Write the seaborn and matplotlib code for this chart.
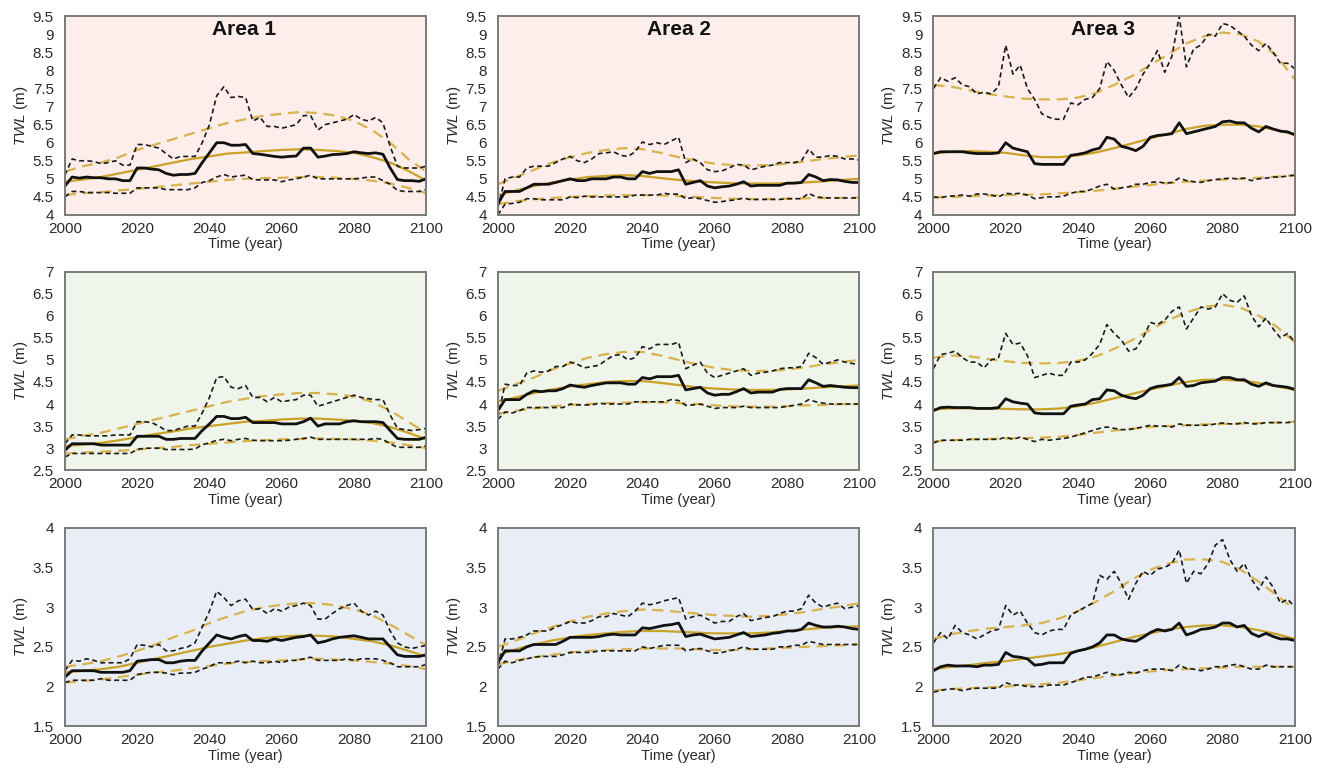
import matplotlib
matplotlib.use("Agg")
import matplotlib.pyplot as plt
from matplotlib.ticker import FuncFormatter, MultipleLocator
import seaborn as sns
import numpy as np

# ---------------- data ----------------
YEARS = list(range(2000, 2101, 2))      # raw (black) series
FIT_YEARS = list(range(2000, 2101, 5))  # fitted (gold) series
AREAS = ["Area 1", "Area 2", "Area 3"]
Y_LIMITS = [(4, 9.5), (2.5, 7), (1.5, 4)]

# Row 1 ------------------------------------------------------------
r1_a1_med = [4.8,5.05,5.02,5.05,5.03,5.03,5.0,5.0,4.95,4.95,5.3,5.3,5.27,5.25,5.15,5.1,5.12,5.12,5.15,5.45,5.72,6.0,6.0,5.93,5.93,5.95,5.7,5.68,5.65,5.62,5.6,5.62,5.63,5.85,5.85,5.6,5.63,5.67,5.68,5.7,5.75,5.72,5.7,5.72,5.68,5.3,4.98,4.95,4.95,4.93,5.0]
r1_a1_hi = [5.1,5.55,5.5,5.5,5.48,5.42,5.45,5.5,5.38,5.38,5.95,5.95,5.9,5.85,5.7,5.55,5.62,5.62,5.62,6.0,6.5,7.3,7.55,7.25,7.28,7.25,6.6,6.7,6.45,6.45,6.4,6.45,6.5,6.75,6.75,6.35,6.5,6.55,6.6,6.65,6.78,6.65,6.6,6.7,6.55,5.9,5.35,5.3,5.3,5.3,5.35]
r1_a1_lo = [4.5,4.65,4.65,4.62,4.62,4.62,4.62,4.6,4.6,4.6,4.75,4.75,4.75,4.75,4.7,4.7,4.7,4.7,4.75,4.9,4.95,5.05,5.12,5.05,5.08,5.1,4.98,4.97,4.97,4.97,4.92,4.97,5.0,5.05,5.1,5.0,5.0,5.0,5.0,5.0,5.0,5.02,5.05,5.05,4.95,4.85,4.68,4.65,4.65,4.65,4.7]
r1_a1_fit = [4.92,4.98,5.05,5.15,5.25,5.35,5.45,5.55,5.62,5.7,5.73,5.77,5.8,5.82,5.8,5.77,5.72,5.6,5.45,5.22,4.95]
r1_a1_fit_hi = [5.2,5.35,5.45,5.6,5.8,5.95,6.1,6.25,6.4,6.55,6.65,6.75,6.8,6.85,6.82,6.75,6.6,6.35,6.0,5.55,5.2]
r1_a1_fit_lo = [4.55,4.6,4.63,4.68,4.72,4.77,4.82,4.87,4.92,4.97,5.0,5.02,5.03,5.05,5.05,5.03,5.0,4.95,4.87,4.75,4.6]

r1_a2_med = [4.3,4.65,4.65,4.65,4.75,4.85,4.85,4.85,4.9,4.95,5.0,4.95,4.95,5.0,5.0,5.0,5.05,5.05,5.0,5.0,5.2,5.15,5.2,5.2,5.2,5.25,4.85,4.9,4.95,4.8,4.75,4.78,4.8,4.85,4.92,4.8,4.82,4.82,4.82,4.82,4.88,4.88,4.9,5.12,5.05,4.95,4.98,4.97,4.93,4.9,4.9]
r1_a2_hi = [4.2,5.0,5.05,5.05,5.3,5.35,5.35,5.35,5.45,5.55,5.62,5.5,5.45,5.55,5.7,5.72,5.75,5.65,5.62,5.75,6.02,5.95,6.0,5.95,6.05,6.15,5.45,5.55,5.45,5.25,5.2,5.22,5.3,5.4,5.38,5.25,5.3,5.35,5.38,5.45,5.45,5.45,5.5,5.82,5.6,5.6,5.65,5.62,5.55,5.55,5.52]
r1_a2_lo = [4.0,4.3,4.32,4.35,4.45,4.45,4.42,4.42,4.42,4.42,4.5,4.48,4.52,4.5,4.5,4.5,4.5,4.5,4.5,4.55,4.55,4.55,4.55,4.6,4.57,4.58,4.45,4.48,4.45,4.4,4.35,4.37,4.4,4.42,4.47,4.42,4.43,4.43,4.43,4.43,4.45,4.45,4.45,4.6,4.5,4.48,4.47,4.47,4.47,4.47,4.47]
r1_a2_fit = [4.55,4.68,4.8,4.9,4.98,5.05,5.08,5.1,5.08,5.02,4.97,4.93,4.9,4.88,4.87,4.87,4.88,4.9,4.93,4.97,5.0]
r1_a2_fit_hi = [4.85,5.05,5.25,5.45,5.6,5.72,5.8,5.85,5.82,5.72,5.6,5.5,5.42,5.38,5.37,5.38,5.42,5.48,5.55,5.6,5.65]
r1_a2_fit_lo = [4.3,4.38,4.43,4.47,4.5,4.52,4.54,4.55,4.55,4.54,4.52,4.5,4.47,4.45,4.44,4.44,4.45,4.46,4.47,4.47,4.48]

r1_a3_med = [5.7,5.75,5.75,5.75,5.75,5.72,5.7,5.7,5.7,5.72,6.0,5.85,5.8,5.75,5.42,5.4,5.4,5.4,5.4,5.65,5.68,5.72,5.8,5.85,6.15,6.1,5.9,5.85,5.78,5.9,6.15,6.2,6.22,6.25,6.55,6.25,6.3,6.35,6.4,6.45,6.58,6.6,6.55,6.55,6.4,6.3,6.45,6.38,6.32,6.3,6.22]
r1_a3_hi = [7.5,7.8,7.7,7.8,7.6,7.55,7.35,7.4,7.35,7.55,8.7,7.9,8.15,7.5,7.2,6.8,6.7,6.65,6.65,7.1,7.05,7.2,7.25,7.5,8.25,8.0,7.6,7.25,7.5,7.9,8.2,8.55,7.95,8.4,9.5,8.1,8.6,8.7,9.0,8.95,9.3,9.25,9.1,8.95,8.7,8.55,8.75,8.5,8.2,8.2,8.05]
r1_a3_lo = [4.5,4.48,4.52,4.53,4.55,4.52,4.58,4.58,4.55,4.5,4.6,4.58,4.6,4.55,4.45,4.48,4.5,4.5,4.52,4.6,4.65,4.65,4.72,4.8,4.85,4.72,4.75,4.78,4.85,4.85,4.9,4.92,4.88,4.9,5.02,4.95,4.92,4.9,4.95,4.98,5.0,5.02,5.0,5.02,4.95,5.0,5.02,5.05,5.05,5.08,5.1]
r1_a3_fit = [5.7,5.75,5.77,5.75,5.72,5.65,5.6,5.6,5.65,5.73,5.85,5.98,6.12,6.25,6.38,6.47,6.5,6.5,6.45,6.35,6.22]
r1_a3_fit_hi = [7.6,7.55,7.45,7.35,7.28,7.22,7.2,7.2,7.25,7.38,7.6,7.85,8.15,8.45,8.75,8.95,9.05,9.0,8.8,8.4,7.75]
r1_a3_fit_lo = [4.48,4.5,4.52,4.54,4.55,4.56,4.57,4.6,4.63,4.67,4.72,4.78,4.83,4.88,4.92,4.95,4.98,5.0,5.03,5.06,5.1]

# Row 2 ------------------------------------------------------------
r2_a1_med = [2.95,3.1,3.1,3.1,3.1,3.07,3.07,3.07,3.07,3.07,3.27,3.27,3.27,3.27,3.2,3.2,3.22,3.22,3.22,3.4,3.55,3.72,3.72,3.67,3.67,3.7,3.58,3.58,3.58,3.58,3.55,3.55,3.55,3.6,3.68,3.5,3.55,3.55,3.55,3.6,3.62,3.6,3.6,3.6,3.58,3.4,3.22,3.2,3.2,3.2,3.25]
r2_a1_hi = [3.1,3.3,3.3,3.28,3.28,3.28,3.28,3.3,3.3,3.3,3.6,3.6,3.58,3.5,3.4,3.4,3.45,3.5,3.5,3.8,4.15,4.6,4.62,4.38,4.35,4.42,4.15,4.15,4.05,4.15,4.05,4.08,4.1,4.2,4.2,3.95,4.0,4.05,4.1,4.15,4.2,4.15,4.12,4.1,4.1,3.75,3.45,3.42,3.4,3.42,3.45]
r2_a1_lo = [2.8,2.88,2.88,2.88,2.88,2.88,2.88,2.88,2.88,2.88,2.97,3.0,3.0,3.0,2.97,2.97,2.97,2.97,2.98,3.08,3.12,3.18,3.2,3.17,3.2,3.22,3.18,3.17,3.17,3.17,3.17,3.18,3.2,3.22,3.25,3.2,3.2,3.2,3.2,3.2,3.2,3.2,3.2,3.22,3.2,3.1,3.02,3.02,3.02,3.02,3.05]
r2_a1_fit = [3.05,3.08,3.12,3.18,3.25,3.32,3.38,3.45,3.5,3.55,3.6,3.62,3.65,3.67,3.67,3.65,3.62,3.57,3.48,3.35,3.2]
r2_a1_fit_hi = [3.2,3.28,3.35,3.45,3.55,3.65,3.75,3.85,3.95,4.05,4.12,4.18,4.22,4.25,4.25,4.22,4.17,4.05,3.85,3.6,3.35]
r2_a1_fit_lo = [2.88,2.9,2.92,2.94,2.97,3.0,3.03,3.07,3.1,3.13,3.16,3.18,3.2,3.21,3.22,3.21,3.2,3.17,3.13,3.07,3.0]

r2_a2_med = [3.85,4.1,4.1,4.1,4.22,4.3,4.28,4.3,4.3,4.35,4.43,4.4,4.38,4.42,4.45,4.48,4.48,4.48,4.45,4.45,4.6,4.57,4.62,4.62,4.62,4.65,4.32,4.35,4.38,4.25,4.2,4.22,4.22,4.28,4.35,4.25,4.27,4.27,4.27,4.33,4.35,4.35,4.35,4.55,4.48,4.4,4.42,4.4,4.38,4.37,4.37]
r2_a2_hi = [3.7,4.45,4.42,4.42,4.7,4.75,4.72,4.75,4.85,4.85,4.95,4.9,4.82,4.85,4.88,5.0,5.1,5.12,5.0,5.05,5.3,5.25,5.35,5.35,5.35,5.4,4.8,4.88,4.95,4.7,4.6,4.65,4.7,4.75,4.8,4.65,4.7,4.72,4.75,4.8,4.82,4.82,4.85,5.15,5.05,4.9,4.95,5.0,4.95,4.92,4.88]
r2_a2_lo = [3.65,3.82,3.8,3.85,3.92,3.92,3.92,3.92,3.92,3.92,4.0,3.98,3.98,3.98,4.02,4.0,4.0,4.0,4.0,4.05,4.05,4.05,4.05,4.05,4.1,4.08,3.97,3.98,4.0,3.95,3.9,3.92,3.92,3.92,3.95,3.92,3.92,3.92,3.92,3.92,3.95,3.97,4.0,4.1,4.05,4.02,4.0,4.0,4.0,4.0,4.0]
r2_a2_fit = [4.05,4.15,4.25,4.33,4.4,4.45,4.5,4.52,4.52,4.48,4.43,4.38,4.35,4.33,4.32,4.32,4.33,4.35,4.38,4.4,4.42]
r2_a2_fit_hi = [4.3,4.45,4.6,4.78,4.92,5.05,5.13,5.18,5.18,5.1,5.0,4.9,4.82,4.77,4.75,4.75,4.78,4.83,4.9,4.95,5.0]
r2_a2_fit_lo = [3.78,3.85,3.9,3.95,3.98,4.0,4.02,4.03,4.04,4.04,4.02,4.0,3.97,3.95,3.94,3.94,3.95,3.97,3.98,4.0,4.0]

r2_a3_med = [3.85,3.92,3.93,3.92,3.92,3.92,3.9,3.9,3.9,3.92,4.12,4.05,4.02,4.0,3.8,3.78,3.78,3.78,3.78,3.95,3.98,4.0,4.1,4.12,4.32,4.3,4.2,4.15,4.12,4.2,4.35,4.4,4.42,4.45,4.6,4.4,4.42,4.48,4.5,4.52,4.6,4.6,4.55,4.55,4.45,4.4,4.48,4.42,4.4,4.38,4.33]
r2_a3_hi = [4.8,5.12,5.15,5.2,5.05,4.95,4.95,4.82,5.0,5.05,5.6,5.35,5.38,5.1,4.6,4.65,4.7,4.65,4.65,4.95,4.95,5.0,5.15,5.35,5.8,5.6,5.45,5.2,5.25,5.5,5.85,5.8,5.9,6.1,6.2,5.7,5.95,6.2,6.15,6.2,6.5,6.35,6.3,6.45,6.0,5.75,5.95,5.7,5.5,5.6,5.4]
r2_a3_lo = [3.12,3.18,3.18,3.18,3.18,3.2,3.2,3.2,3.2,3.2,3.25,3.2,3.25,3.2,3.15,3.2,3.18,3.2,3.22,3.25,3.3,3.35,3.4,3.45,3.48,3.45,3.42,3.42,3.45,3.48,3.52,3.5,3.5,3.48,3.55,3.52,3.52,3.52,3.52,3.55,3.57,3.55,3.55,3.58,3.55,3.55,3.58,3.58,3.58,3.58,3.6]
r2_a3_fit = [3.88,3.9,3.9,3.9,3.89,3.88,3.88,3.9,3.95,4.03,4.13,4.23,4.33,4.42,4.5,4.55,4.55,4.53,4.48,4.4,4.32]
r2_a3_fit_hi = [5.05,5.1,5.08,5.02,4.97,4.93,4.92,4.93,4.98,5.08,5.25,5.45,5.68,5.9,6.08,6.2,6.25,6.18,6.0,5.75,5.4]
r2_a3_fit_lo = [3.15,3.18,3.2,3.21,3.22,3.23,3.24,3.26,3.3,3.35,3.4,3.44,3.48,3.5,3.52,3.54,3.55,3.56,3.57,3.58,3.6]

# Row 3 ------------------------------------------------------------
r3_a1_med = [2.12,2.2,2.2,2.2,2.2,2.18,2.18,2.18,2.18,2.2,2.32,2.33,2.34,2.34,2.3,2.3,2.32,2.33,2.33,2.45,2.55,2.65,2.62,2.6,2.63,2.65,2.58,2.58,2.57,2.6,2.58,2.6,2.62,2.63,2.65,2.55,2.57,2.6,2.62,2.63,2.64,2.62,2.6,2.6,2.6,2.5,2.4,2.38,2.38,2.38,2.4]
r3_a1_hi = [2.2,2.33,2.32,2.35,2.33,2.3,2.3,2.3,2.3,2.35,2.53,2.52,2.5,2.53,2.45,2.45,2.48,2.5,2.55,2.75,2.95,3.2,3.12,3.02,3.08,3.1,2.97,2.98,2.92,2.98,2.95,3.0,3.02,3.05,3.02,2.85,2.85,2.92,2.98,3.02,3.05,2.95,2.9,2.95,2.9,2.7,2.55,2.5,2.48,2.5,2.52]
r3_a1_lo = [2.05,2.08,2.08,2.08,2.08,2.1,2.08,2.08,2.08,2.08,2.15,2.17,2.18,2.18,2.17,2.15,2.17,2.17,2.18,2.22,2.25,2.3,2.3,2.3,2.32,2.3,2.32,2.3,2.3,2.32,2.3,2.33,2.33,2.35,2.37,2.33,2.33,2.33,2.33,2.35,2.33,2.35,2.35,2.35,2.33,2.3,2.25,2.25,2.25,2.25,2.28]
r3_a1_fit = [2.18,2.2,2.22,2.25,2.3,2.35,2.4,2.45,2.5,2.54,2.58,2.61,2.63,2.64,2.64,2.63,2.6,2.57,2.52,2.45,2.38]
r3_a1_fit_hi = [2.25,2.28,2.32,2.38,2.45,2.53,2.62,2.7,2.8,2.88,2.95,3.0,3.03,3.05,3.05,3.02,2.97,2.9,2.78,2.65,2.52]
r3_a1_fit_lo = [2.05,2.07,2.09,2.12,2.15,2.18,2.2,2.23,2.26,2.29,2.31,2.32,2.33,2.34,2.35,2.34,2.33,2.31,2.29,2.26,2.22]

r3_a2_med = [2.3,2.45,2.45,2.45,2.5,2.53,2.53,2.53,2.53,2.57,2.62,2.62,2.62,2.62,2.63,2.65,2.66,2.65,2.65,2.65,2.74,2.73,2.75,2.77,2.78,2.8,2.63,2.65,2.66,2.63,2.6,2.61,2.62,2.65,2.68,2.63,2.64,2.65,2.67,2.68,2.7,2.7,2.72,2.8,2.77,2.75,2.75,2.76,2.75,2.73,2.72]
r3_a2_hi = [2.25,2.6,2.6,2.62,2.65,2.7,2.7,2.7,2.75,2.78,2.82,2.8,2.8,2.83,2.88,2.88,2.92,2.9,2.88,2.95,3.05,3.03,3.05,3.08,3.1,3.12,2.85,2.88,2.9,2.85,2.8,2.82,2.82,2.88,2.92,2.83,2.85,2.87,2.88,2.92,2.95,2.95,2.98,3.15,3.05,3.0,3.03,3.05,2.98,3.0,3.02]
r3_a2_lo = [2.22,2.32,2.3,2.33,2.35,2.37,2.38,2.38,2.38,2.4,2.43,2.43,2.43,2.43,2.45,2.45,2.45,2.45,2.45,2.45,2.5,2.48,2.5,2.52,2.52,2.52,2.45,2.47,2.48,2.45,2.42,2.43,2.45,2.47,2.5,2.47,2.47,2.47,2.47,2.5,2.5,2.52,2.52,2.57,2.55,2.53,2.53,2.53,2.53,2.53,2.53]
r3_a2_fit = [2.4,2.47,2.53,2.58,2.62,2.65,2.67,2.69,2.7,2.7,2.69,2.68,2.67,2.67,2.67,2.68,2.7,2.72,2.74,2.75,2.76]
r3_a2_fit_hi = [2.5,2.58,2.67,2.75,2.82,2.88,2.92,2.95,2.97,2.96,2.94,2.92,2.9,2.89,2.88,2.89,2.91,2.94,2.98,3.01,3.05]
r3_a2_fit_lo = [2.28,2.33,2.37,2.4,2.43,2.45,2.46,2.47,2.48,2.48,2.48,2.47,2.46,2.46,2.47,2.48,2.49,2.5,2.51,2.52,2.53]

r3_a3_med = [2.2,2.25,2.27,2.26,2.26,2.26,2.25,2.27,2.27,2.28,2.43,2.38,2.37,2.35,2.27,2.28,2.3,2.3,2.3,2.42,2.45,2.47,2.5,2.55,2.65,2.65,2.6,2.58,2.57,2.62,2.68,2.72,2.7,2.72,2.8,2.65,2.68,2.72,2.73,2.75,2.8,2.8,2.75,2.77,2.67,2.63,2.67,2.63,2.6,2.6,2.58]
r3_a3_hi = [2.55,2.68,2.6,2.77,2.68,2.65,2.6,2.65,2.7,2.72,3.02,2.9,2.95,2.8,2.68,2.65,2.7,2.72,2.72,2.9,2.95,3.0,3.05,3.4,3.35,3.45,3.3,3.1,3.3,3.45,3.4,3.48,3.5,3.55,3.72,3.3,3.45,3.42,3.55,3.78,3.85,3.6,3.45,3.55,3.35,3.22,3.38,3.25,3.05,3.1,3.0]
r3_a3_lo = [1.93,1.95,1.97,1.97,1.95,1.97,1.98,1.98,1.98,1.98,2.05,2.02,2.02,2.0,2.0,2.0,2.02,2.02,2.02,2.05,2.08,2.12,2.12,2.15,2.18,2.15,2.15,2.18,2.17,2.2,2.22,2.22,2.22,2.2,2.27,2.23,2.22,2.2,2.22,2.25,2.25,2.27,2.28,2.25,2.22,2.22,2.27,2.25,2.25,2.25,2.25]
r3_a3_fit = [2.22,2.25,2.27,2.3,2.32,2.35,2.38,2.41,2.45,2.5,2.56,2.62,2.67,2.72,2.75,2.77,2.77,2.75,2.71,2.66,2.6]
r3_a3_fit_hi = [2.6,2.66,2.7,2.73,2.75,2.77,2.8,2.86,2.95,3.07,3.2,3.35,3.47,3.55,3.6,3.6,3.57,3.47,3.32,3.15,2.97]
r3_a3_fit_lo = [1.95,1.97,1.98,1.99,2.0,2.02,2.03,2.05,2.08,2.11,2.14,2.17,2.19,2.21,2.22,2.23,2.24,2.25,2.25,2.25,2.25]

PANELS = [
    [(r1_a1_med, r1_a1_hi, r1_a1_lo, r1_a1_fit, r1_a1_fit_hi, r1_a1_fit_lo),
     (r1_a2_med, r1_a2_hi, r1_a2_lo, r1_a2_fit, r1_a2_fit_hi, r1_a2_fit_lo),
     (r1_a3_med, r1_a3_hi, r1_a3_lo, r1_a3_fit, r1_a3_fit_hi, r1_a3_fit_lo)],
    [(r2_a1_med, r2_a1_hi, r2_a1_lo, r2_a1_fit, r2_a1_fit_hi, r2_a1_fit_lo),
     (r2_a2_med, r2_a2_hi, r2_a2_lo, r2_a2_fit, r2_a2_fit_hi, r2_a2_fit_lo),
     (r2_a3_med, r2_a3_hi, r2_a3_lo, r2_a3_fit, r2_a3_fit_hi, r2_a3_fit_lo)],
    [(r3_a1_med, r3_a1_hi, r3_a1_lo, r3_a1_fit, r3_a1_fit_hi, r3_a1_fit_lo),
     (r3_a2_med, r3_a2_hi, r3_a2_lo, r3_a2_fit, r3_a2_fit_hi, r3_a2_fit_lo),
     (r3_a3_med, r3_a3_hi, r3_a3_lo, r3_a3_fit, r3_a3_fit_hi, r3_a3_fit_lo)],
]

# ---------------- style ----------------
sns.set_style("white")
plt.rcParams["font.family"] = ["Liberation Sans", "DejaVu Sans"]
plt.rcParams["mathtext.fontset"] = "custom"
plt.rcParams["mathtext.it"] = "Liberation Sans:italic"
plt.rcParams["mathtext.rm"] = "Liberation Sans"

ROW_BG = ["#fdeeec", "#eff5ea", "#e9eef6"]
GOLD = "#c9a227"
GOLD_D = "#d8b24c"
SPINE = "#7a7a7a"
TXT = "#2a2a2a"

fig = plt.figure(figsize=(13.24, 7.76), dpi=100)
lefts = [0.049, 0.376, 0.705]
bottoms = [0.723, 0.394, 0.064]
W, H = 0.273, 0.256

title_x = [0.495, 0.5, 0.47]

for r in range(3):
    for c in range(3):
        ax = fig.add_axes([lefts[c], bottoms[r], W, H])
        ax.set_facecolor(ROW_BG[r])
        med, hi, lo, fit, fit_hi, fit_lo = PANELS[r][c]

        # fitted curves (gold)
        sns.lineplot(x=FIT_YEARS, y=fit, ax=ax, color=GOLD, lw=1.6)
        sns.lineplot(x=FIT_YEARS, y=fit_hi, ax=ax, color=GOLD_D, lw=1.6,
                     linestyle=(0, (5, 3)))
        sns.lineplot(x=FIT_YEARS, y=fit_lo, ax=ax, color=GOLD_D, lw=1.6,
                     linestyle=(0, (5, 3)))
        # raw series (black)
        sns.lineplot(x=YEARS, y=hi, ax=ax, color="#1a1a1a", lw=1.2,
                     linestyle=(0, (3, 2)))
        sns.lineplot(x=YEARS, y=lo, ax=ax, color="#1a1a1a", lw=1.2,
                     linestyle=(0, (3, 2)))
        sns.lineplot(x=YEARS, y=med, ax=ax, color="#111111", lw=2.0)

        ax.set_xlim(2000, 2100)
        ax.set_ylim(*Y_LIMITS[r])
        ax.xaxis.set_major_locator(MultipleLocator(20))
        ax.yaxis.set_major_locator(MultipleLocator(0.5))
        ax.yaxis.set_major_formatter(FuncFormatter(lambda v, p: f"{v:g}"))
        ax.tick_params(axis="both", direction="out", length=3, width=1,
                       color=SPINE, labelsize=11, labelcolor=TXT)
        ax.tick_params(axis="y", pad=5)
        ax.tick_params(axis="x", pad=2)
        for s in ax.spines.values():
            s.set_color(SPINE)
            s.set_linewidth(1.4)
        ax.set_xlabel("Time (year)", fontsize=10.5, color=TXT, labelpad=1)
        ax.set_ylabel(r"$\mathit{TWL}$ (m)", fontsize=11, color=TXT, labelpad=2)
        if r == 0:
            ax.text(title_x[c], 0.935, AREAS[c], transform=ax.transAxes,
                    ha="center", va="center", fontsize=15,
                    fontweight="bold", color="#111111")

fig.savefig("out.png", dpi=100)
